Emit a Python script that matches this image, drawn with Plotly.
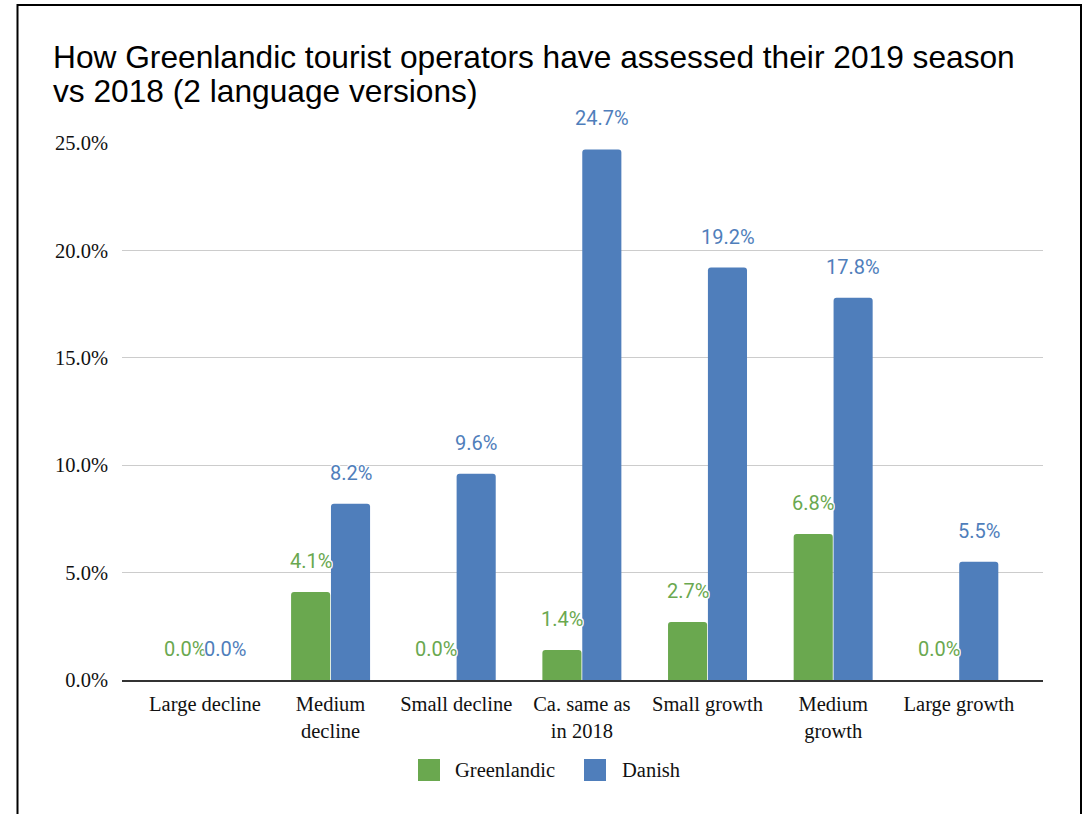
import plotly.graph_objects as go

# Survey answers: change in 2019 season vs 2018, share of operators (%)
categories = ["Large decline", "Medium<br>decline", "Small decline", "Ca. same as<br>in 2018",
              "Small growth", "Medium<br>growth", "Large growth"]
greenlandic = [0.0, 4.1, 0.0, 1.4, 2.7, 6.8, 0.0]
danish = [0.0, 8.2, 9.6, 24.7, 19.2, 17.8, 5.5]
series_names = ["Greenlandic", "Danish"]
y_ticks = [0, 5, 10, 15, 20, 25]

GREEN = "#6aa84f"
BLUE = "#4f7ebb"
SERIF = "Liberation Serif, Times New Roman, serif"
SANS = "Liberation Sans, Arial, sans-serif"
LABEL_FONT = "Roboto, sans-serif"
TEXT = "#111111"

W, H = 1083, 814
L, R, T, B = 122, 40, 143, 134
PW, PH = W - L - R, H - T - B


def px_x(x):
    return (x - L) / PW


def px_y(y):
    return (H - B - y) / PH


fig = go.Figure()
for name, vals, col in [(series_names[0], greenlandic, GREEN), (series_names[1], danish, BLUE)]:
    fig.add_trace(go.Bar(
        x=categories, y=vals, name=name,
        marker=dict(color=col, cornerradius=3, line=dict(width=0)),
        showlegend=False,
    ))

halo = "1px 1px 0 #fff, -1px -1px 0 #fff, 1px -1px 0 #fff, -1px 1px 0 #fff"
annotations = []
for vals, col, shift in [(greenlandic, GREEN, -20), (danish, BLUE, 20)]:
    for cat, v in zip(categories, vals):
        annotations.append(dict(
            x=cat, y=v, xref="x", yref="y", text=f"{v:.1f}%",
            showarrow=False, xshift=shift, yshift=31, yanchor="middle",
            font=dict(family=LABEL_FONT, size=20, color=col, shadow=halo),
        ))

# Title, two lines
title_lines = ["How Greenlandic tourist operators have assessed their 2019 season",
               "vs 2018 (2 language versions)"]
for line, ypx in zip(title_lines, [57, 91]):
    annotations.append(dict(
        x=px_x(51), y=px_y(ypx), xref="paper", yref="paper", xanchor="left", yanchor="middle",
        text=line, showarrow=False, font=dict(family=SANS, size=31.7, color="#000000"),
    ))

# Legend entries
shapes = []
for left, name, col, text_left in [(418, series_names[0], GREEN, 453), (584, series_names[1], BLUE, 620)]:
    shapes.append(dict(
        type="rect", xref="paper", yref="paper",
        x0=px_x(left), x1=px_x(left + 22), y0=px_y(781), y1=px_y(759),
        fillcolor=col, line=dict(width=0), layer="above",
    ))
    annotations.append(dict(
        x=px_x(text_left), y=px_y(770), xref="paper", yref="paper",
        xanchor="left", yanchor="middle", text=name, showarrow=False,
        font=dict(family=SERIF, size=20.5, color=TEXT),
    ))

# Outer frame
shapes.append(dict(
    type="rect", xref="paper", yref="paper",
    x0=px_x(17.5), x1=px_x(1081), y0=px_y(840), y1=px_y(5),
    line=dict(color="#000000", width=2), fillcolor="rgba(0,0,0,0)", layer="above",
))

fig.update_layout(
    width=W, height=H, autosize=False,
    margin=dict(l=L, r=R, t=T, b=B, pad=0),
    paper_bgcolor="#ffffff", plot_bgcolor="#ffffff",
    barmode="group", bargap=0.365, bargroupgap=0.02,
    annotations=annotations, shapes=shapes,
    xaxis=dict(
        range=[-0.66, 6.67], showgrid=False, showline=True, linecolor="#333333", linewidth=1.5,
        ticks="", ticklabelstandoff=5,
        tickfont=dict(family=SERIF, size=20.5, color=TEXT),
        fixedrange=True,
    ),
    yaxis=dict(
        range=[0, 25], tickvals=y_ticks, ticktext=[f"{v:.1f}%" for v in y_ticks],
        showgrid=True, gridcolor="#cccccc", gridwidth=1, zeroline=False,
        showline=False, ticks="", ticklabelstandoff=13,
        tickfont=dict(family=SERIF, size=20.5, color=TEXT),
        fixedrange=True,
    ),
    showlegend=False,
)

fig.write_html("out.html")
